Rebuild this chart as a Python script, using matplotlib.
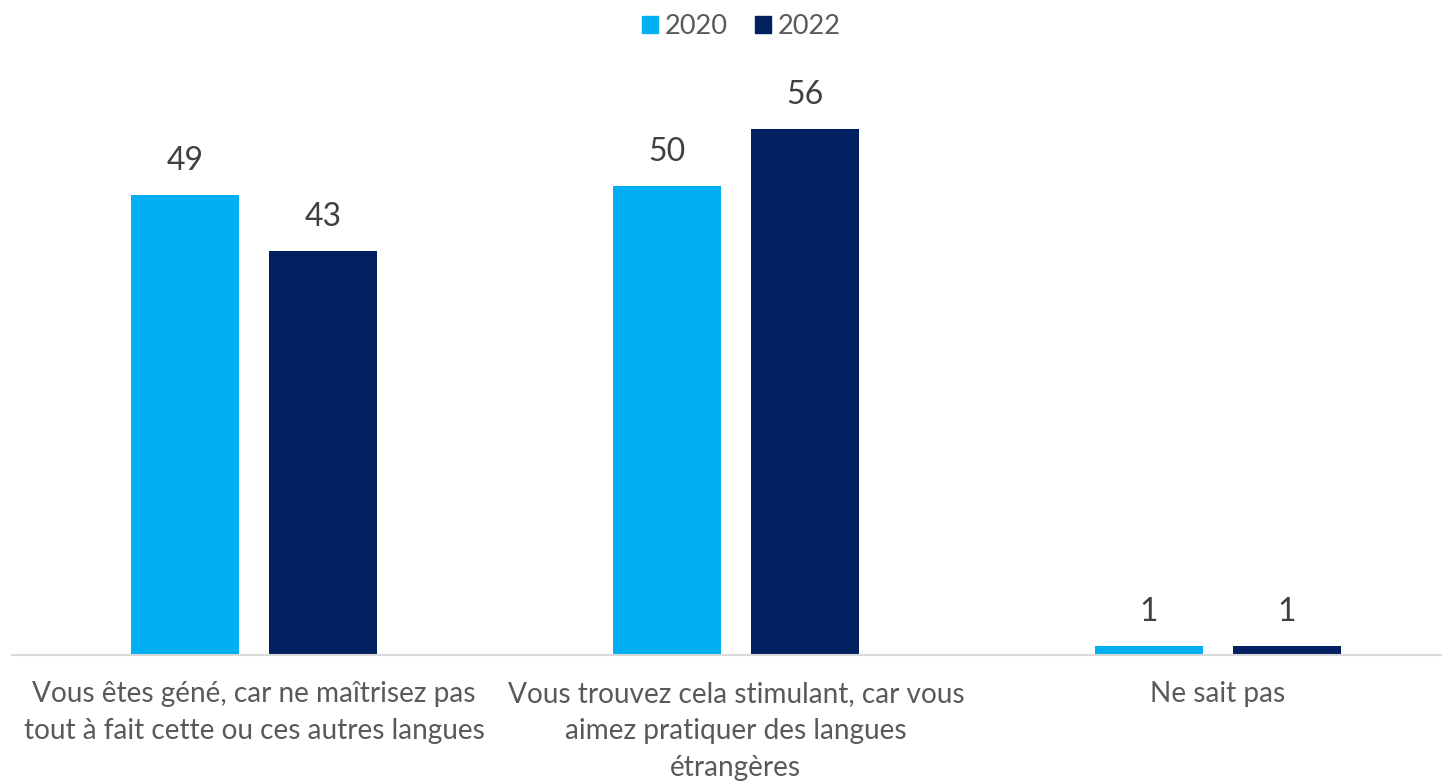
import numpy as np
import matplotlib.pyplot as plt
from matplotlib.patches import Patch

# data
categories = [
    "Vous êtes géné, car ne maîtrisez pas\ntout à fait cette ou ces autres langues",
    "Vous trouvez cela stimulant, car vous\naimez pratiquer des langues\nétrangères",
    "Ne sait pas",
]
years = ["2020", "2022"]
vals_2020 = [49, 50, 1]
vals_2022 = [43, 56, 1]

colors = ["#00B0F0", "#002060"]

plt.rcParams['font.family'] = ['Lato', 'DejaVu Sans']

fig = plt.figure(figsize=(14.42, 7.82), dpi=100)
ax = fig.add_axes([12 / 1442, (782 - 655) / 782, 1430 / 1442, 595 / 782])

x = np.arange(len(categories))
w = 0.224
off = 0.143
for vals, c, sgn in [(vals_2020, colors[0], -1), (vals_2022, colors[1], 1)]:
    bars = ax.bar(x + sgn * off, vals, width=w, color=c, zorder=2)
    for b, v in zip(bars, vals):
        ax.annotate(str(v), (b.get_x() + b.get_width() / 2, b.get_height()),
                    xytext=(0, 18), textcoords='offset points',
                    ha='center', va='baseline', fontsize=23, color='#404040')

ax.set_xlim(-0.502, 2.465)
ax.set_ylim(0, 63.4)
ax.set_yticks([])
ax.set_xticks(x)
ax.set_xticklabels(categories, fontsize=20.2, color='#595959', linespacing=1.52)
ax.tick_params(axis='x', length=0, pad=19)
for s in ['top', 'right', 'left']:
    ax.spines[s].set_visible(False)
ax.spines['bottom'].set_color('#D9D9D9')
ax.spines['bottom'].set_linewidth(1.5)

handles = [Patch(color=c, label=y) for c, y in zip(colors, years)]
leg = fig.legend(handles=handles, loc='upper center', bbox_to_anchor=(0.514, 1.013),
                 ncol=2, frameon=False, fontsize=19.5, handlelength=0.6, handleheight=0.6,
                 handletextpad=0.25, columnspacing=1.0)
for t in leg.get_texts():
    t.set_color('#595959')

fig.savefig('out.png', dpi=100)
